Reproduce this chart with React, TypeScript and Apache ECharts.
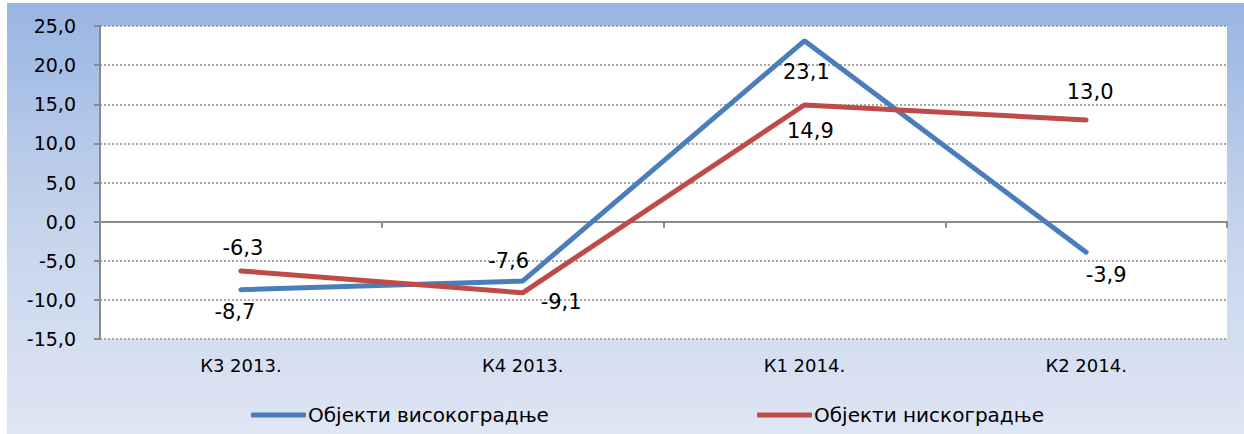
import React, { useEffect, useRef } from "react";
import * as echarts from "echarts";

const categories = ["К3 2013.", "К4 2013.", "К1 2014.", "К2 2014."];
const highRise = [-8.7, -7.6, 23.1, -3.9];
const lowRise = [-6.3, -9.1, 14.9, 13.0];
const seriesNames = ["Објекти високоградње", "Објекти нискоградње"];
const yMin = -15;
const yMax = 25;
const yStep = 5;

const blueLabelPos: any[] = [
  { position: "bottom", distance: 12, offset: [-6, 0] },
  { position: "top", distance: 10, offset: [-14, 0] },
  { position: "bottom", distance: 21, offset: [2, 0] },
  { position: "bottom", distance: 12, offset: [20, 0] },
];
const redLabelPos: any[] = [
  { position: "top", distance: 12, offset: [2, 0] },
  { position: "right", distance: 18, offset: [0, 9] },
  { position: "bottom", distance: 15, offset: [6, 0] },
  { position: "top", distance: 17, offset: [4, 0] },
];

const fmt = (v: number) => v.toFixed(1).replace(".", ",");

export default function App() {
  const ref = useRef<HTMLDivElement>(null);
  useEffect(() => {
    document.body.style.margin = "0";
    const chart = echarts.init(ref.current!, null, { renderer: "svg" });
    const mk = (vals: number[], pos: any[]) =>
      vals.map((v, i) => ({
        value: v,
        label: { ...pos[i] },
      }));
    const legendBase = {
      top: 397,
      icon: "roundRect",
      itemWidth: 55,
      itemHeight: 5,
      itemGap: 0,
      textStyle: { fontFamily: "DejaVu Sans", fontSize: 20, color: "#000", padding: [0, 0, 0, -3] },
    };
    chart.setOption({
      animation: false,
      backgroundColor: new echarts.graphic.LinearGradient(0, 0, 0, 1, [
        { offset: 0, color: "#99b5e2" },
        { offset: 0.5, color: "#c4d3ec" },
        { offset: 1, color: "#dfe6f4" },
      ]),
      textStyle: { fontFamily: "DejaVu Sans" },
      grid: {
        left: 93,
        right: 17,
        top: 23,
        bottom: 95,
        show: true,
        backgroundColor: "#ffffff",
        borderWidth: 0,
      },
      legend: [
        { ...legendBase, data: [seriesNames[0]], left: 239 },
        { ...legendBase, data: [seriesNames[1]], left: 745 },
      ],
      xAxis: [
        {
          type: "category",
          data: categories,
          position: "bottom",
          axisLine: { show: false, onZero: false },
          axisTick: { show: false },
          axisLabel: { fontSize: 18, color: "#000", margin: 17 },
        },
        {
          type: "category",
          data: categories,
          position: "bottom",
          axisLine: { show: true, onZero: true, lineStyle: { color: "#8a8a8a", width: 2 } },
          axisTick: { show: true, length: 6, inside: false, lineStyle: { color: "#8a8a8a", width: 2 } },
          axisLabel: { show: false },
        },
      ],
      yAxis: {
        type: "value",
        min: yMin,
        max: yMax,
        interval: yStep,
        axisLine: { show: true, lineStyle: { color: "#8a8a8a", width: 2 } },
        axisTick: { show: true, length: 6, lineStyle: { color: "#8a8a8a", width: 2 } },
        axisLabel: {
          fontSize: 19,
          color: "#000",
          margin: 24,
          formatter: (v: number) => fmt(v),
        },
        splitLine: { show: true, lineStyle: { color: "#8c8c8c", type: [2, 2], width: 1.5 } },
      },
      series: [
        {
          name: seriesNames[0],
          type: "line",
          data: mk(highRise, blueLabelPos),
          color: "#4a7ebb",
          lineStyle: { width: 5, color: "#4a7ebb", cap: "round" },
          symbol: "circle",
          symbolSize: 0,
          showSymbol: true,
          label: { show: true, fontSize: 21, color: "#000", formatter: (p: any) => fmt(p.value) },
          z: 3,
        },
        {
          name: seriesNames[1],
          type: "line",
          data: mk(lowRise, redLabelPos),
          color: "#be4b48",
          lineStyle: { width: 5, color: "#be4b48", cap: "round" },
          symbol: "circle",
          symbolSize: 0,
          showSymbol: true,
          label: { show: true, fontSize: 21, color: "#000", formatter: (p: any) => fmt(p.value) },
          z: 4,
        },
      ],
    });
    return () => chart.dispose();
  }, []);
  return (
    <div style={{ width: 1244, height: 434, background: "#fff", position: "relative" }}>
      <div ref={ref} style={{ position: "absolute", left: 7, top: 3, width: 1237, height: 431 }} />
    </div>
  );
}
